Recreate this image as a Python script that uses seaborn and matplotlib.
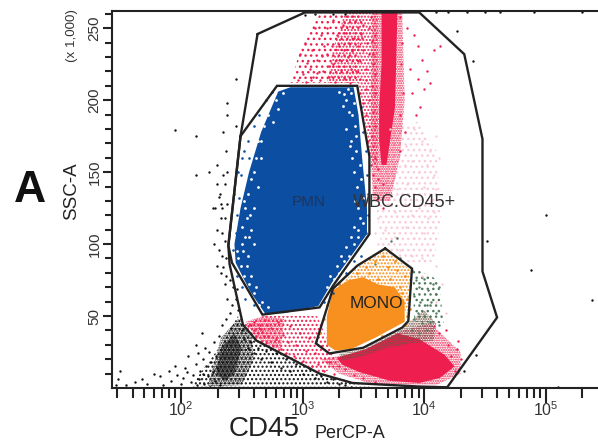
import numpy as np, pandas as pd, matplotlib
matplotlib.use("Agg")
import matplotlib.pyplot as plt
import seaborn as sns

sns.set_style("ticks")
plt.rcParams['font.family'] = ['Liberation Sans', 'DejaVu Sans']

# Gates: (log10 CD45 PerCP-A, SSC-A in thousands)
gate_wbc = [(2.63,246),(3.02,261),(3.96,261),(4.33,232),(4.48,173),(4.48,81),(4.60,49),(4.19,0.5),(3.96,1),(3.41,3.5),(3.14,10),(2.62,33),(2.51,44),(2.40,86),(2.39,99),(2.49,175)]
gate_pmn = [(2.49,175),(2.79,210),(3.45,210),(3.55,161),(3.55,107),(3.25,71),(3.14,56),(2.67,51),(2.42,87),(2.39,99)]
gate_mono = [(3.68,97),(3.90,83),(3.87,46.5),(3.82,42),(3.50,28),(3.22,24),(3.11,31),(3.25,69),(3.45,85)]

# Dense populations, where single events merge into one area
dense_blue = [(2.56,150),(2.66,178),(2.80,206),(2.90,209),(3.42,209),(3.46,190),(3.49,160),(3.53,125),(3.53,107),(3.24,73),(3.13,57),(2.85,52),(2.69,52),(2.57,67),(2.45,87),(2.44,100),(2.49,125)]
dense_orange = [(3.25,68),(3.38,75),(3.5,77),(3.62,72),(3.76,70),(3.84,60),(3.84,46),(3.6,35),(3.4,27),(3.27,26),(3.2,30),(3.2,50)]
dense_red = [(3.28,21),(3.52,27),(3.78,38),(3.96,34),(4.17,23),(4.25,15),(4.13,7),(3.96,3.5),(3.72,5),(3.47,11),(3.33,16)]
dense_column = [(3.65,261),(3.78,261),(3.77,225),(3.76,195),(3.72,172),(3.69,155),(3.65,155),(3.63,172),(3.63,195),(3.65,225)]

# Stippled regions, where events are close but still separate: (polygon, colour, hatch)
stipple_red_sparse = [(2.9,212),(3.46,212),(3.5,261),(3.15,261),(3.0,240)]
stipple_red_top = [(3.2,212),(3.46,212),(3.56,160),(3.62,150),(3.62,261),(3.35,261),(3.25,235)]
stipple_column = [(3.57,261),(3.82,261),(3.84,200),(3.8,160),(3.72,130),(3.58,130),(3.56,165)]
stipple_pink = [(3.7,180),(3.95,185),(4.1,165),(4.14,120),(4.08,88),(3.9,85),(3.65,98),(3.6,130)]
stipple_red_low = [(2.52,44),(2.62,33),(3.14,10),(3.3,15),(3.12,50),(2.68,50)]
stipple_red_core = [(2.53,46),(2.62,35),(2.82,26),(2.85,48),(2.68,50)]
stipple_red_halo = [(3.15,20),(3.5,25),(3.82,40),(4.05,45),(4.3,25),(4.3,10),(4.1,2),(3.6,2),(3.3,10)]
stipple_brown = [(3.5,27),(3.82,41),(3.88,46),(4.0,54),(4.1,45),(4.08,33),(3.9,31),(3.7,28),(3.5,22),(3.32,19),(3.3,24)]
stipple_green = [(3.9,84),(4.12,75),(4.16,45),(3.92,46)]
stipple_mono = [(3.3,70),(3.45,84),(3.68,96),(3.89,82),(3.87,50),(3.75,70)]
stipple_black = [(2.08,1),(2.33,30),(2.47,50),(2.55,37),(2.62,33),(3.14,10),(3.55,1.5),(3.55,1)]
stipple_black_core = [(2.22,1),(2.33,35),(2.47,48),(2.58,35),(2.6,20),(2.5,2)]
stipple_black_dense = [(2.29,10),(2.33,28),(2.44,38),(2.5,28),(2.44,10),(2.36,5)]

red_events = [(2.96,214),(3.0,218),(3.03,213),(3.06,222),(3.09,216),(3.12,228),(3.14,214),(3.17,220),(3.2,232),(3.22,216),(3.25,225),(3.27,213),(3.3,238),(3.32,221),(3.35,215),(3.37,230),(3.4,222),(3.42,243),(3.45,228),(3.47,215),(3.5,235),(3.52,222),(3.55,250),(3.57,210),(3.58,232),(3.6,218),(3.02,240),(3.08,235),(3.15,245),(3.2,250),(3.28,245),(3.33,252),(3.38,240),(3.43,255),(3.48,246),(3.53,240),(3.56,258),(3.6,245),(3.25,256),(3.1,250),(3.18,238),(3.3,228),(3.36,247),(3.41,234),(3.46,238),(3.5,252),(3.58,225),(3.44,220),(3.39,212),(3.24,238),(3.12,219),(3.04,226),(2.98,232),(3.07,214),(3.16,231),(3.22,224),(3.34,235),(3.47,227),(3.52,214),(3.55,232),(3.57,241),(3.49,243),
 (3.47,205),(3.5,198),(3.52,190),(3.55,182),(3.57,175),(3.58,168),(3.6,160),(3.62,152),(3.58,148),(3.6,140),(3.56,155),(3.54,172),(3.58,192),(3.6,205),(3.55,200),(3.52,208),(3.6,182),(3.62,145),(3.66,142),(3.62,132),(3.66,125),
 (3.8,258),(3.82,240),(3.81,225),(3.83,205),(3.8,190),(3.84,178),(3.8,165),(3.86,250),(3.92,245),(3.95,238),(3.98,228),(3.88,222),(3.95,215),(3.9,205),(3.97,195),(4.02,220),(4.08,235),(4.13,238),(4.0,208),(3.93,190),(4.05,212),
 (2.55,43),(2.58,38),(2.6,46),(2.62,36),(2.64,42),(2.66,33),(2.67,39),(2.69,47),(2.7,31),(2.72,36),(2.74,42),(2.76,29),(2.78,34),(2.8,46),(2.82,27),(2.84,37),(2.86,24),(2.88,32),(2.9,43),(2.93,22),(2.95,30),(2.98,38),(3.0,19),(3.03,26),(3.05,35),(3.08,15),(3.1,24),(3.13,17),(3.15,29),(3.18,12),(3.22,18),(3.26,10),(3.3,15),(2.58,44),(2.6,40),(2.63,38),(2.65,44),(2.68,36),(2.61,34),(2.66,41),(2.71,44),
 (4.2,30),(4.22,22),(4.27,27),(4.3,20),(4.12,38),(4.18,40),(4.25,12),(4.28,33),(4.08,43),(3.35,13),(3.42,9),(3.5,7),(3.6,4)]

pink_events = [(3.72,180),(3.8,175),(3.85,168),(3.92,180),(3.98,172),(4.05,165),(4.1,175),(3.76,160),(3.84,155),(3.9,158),(3.96,150),(4.02,155),(4.08,148),(4.12,160),(3.72,145),(3.78,138),(3.86,142),(3.92,135),(4.0,140),(4.06,130),(4.1,138),(3.7,128),(3.76,122),(3.84,128),(3.9,120),(3.96,125),(4.03,118),(4.08,122),(3.62,118),(3.68,110),(3.76,105),(3.85,112),(3.92,104),(4.0,108),(4.05,96),(3.62,100),(3.7,96),(3.8,96),(3.9,92),(3.98,90),(4.1,85),(4.15,72),(4.1,60),(4.18,52),(3.6,108),(3.58,92),(3.56,84),(3.98,78),(4.03,68)]

green_events = [(3.9,82),(3.93,75),(3.96,70),(4.0,76),(4.03,68),(4.07,72),(4.1,65),(4.12,70),(3.92,64),(3.97,60),(4.02,58),(4.06,60),(4.1,52),(4.0,50),(3.95,52),(3.92,48),(3.98,45),(4.05,46),(4.12,44),(3.9,40),(3.96,38),(4.02,40),(3.8,90),(3.73,102),(3.78,104),(3.55,90),(3.6,86)]

white_events = [(2.52,130),(2.54,118),(2.53,105),(2.51,95),(2.49,85),(2.52,78),(2.56,72),(2.6,66),(2.64,58),(2.55,92),(2.58,110),(2.6,125),(2.58,145),(2.62,160),(2.66,172),(2.72,190),(2.78,200),(2.84,205),(3.4,205),(3.42,198),(3.38,192),(3.43,182),(3.4,172),(3.44,165),(3.47,155),(3.48,145),(3.5,132),(3.46,125),(3.5,115),(3.46,105),(3.42,100),(3.38,92),(3.34,88),(3.3,80),(3.26,76),(3.2,70),(3.3,206),(3.36,200),(2.46,95),(2.56,60),
 (2.5,100),(2.47,90),(2.5,112),(2.53,125),(2.55,135),(2.57,120),(2.56,105),(2.54,85),(2.58,78),(2.62,70),(2.67,60),(2.72,56),(2.6,150),(2.63,172),(2.68,182),(2.73,198),(2.8,194),(2.76,185),(2.66,160),(2.63,140),(2.6,100),
 (3.37,208),(3.41,190),(3.36,180),(3.44,175),(3.41,160),(3.45,140),(3.43,130),(3.47,118),(3.42,112),(3.4,105),(3.36,98),(3.32,92),(3.28,85),(3.34,204),(3.33,196),(3.39,168),(3.42,150),(3.46,110),(3.23,78)]

blue_events = [(2.5,160),(2.52,165),(2.55,172),(2.6,182),(2.64,190),(2.7,200),(2.75,206),(2.47,150),(2.48,132),(2.46,120),(2.45,108),(2.43,96),(2.46,78),(2.5,70),(2.53,62),(2.6,58),(3.48,195),(3.5,178),(3.52,165),(3.53,148),(3.54,135),(3.54,120),(3.52,108),(3.48,92),(3.42,88),(3.36,80),(3.3,72),(3.25,66),(3.18,60),(2.44,135),(2.49,148),(2.56,160)]

orange_events = [(3.2,58),(3.18,48),(3.14,38),(3.3,72),(3.45,80),(3.55,80),(3.62,76),(3.72,76),(3.8,70),(3.86,62),(3.88,55),(3.86,50),(3.84,78),(3.78,82),(3.7,84),(3.6,88),(3.52,84),(3.66,92),(3.76,88),(3.82,66),(3.84,44),(3.75,44),(3.65,36)]

black_events = [(1.62,4),(1.68,6),(1.72,3),(1.78,10),(1.83,8),(1.85,2),(1.9,12),(1.92,5),(1.95,15),(1.97,9),(2.0,3),(2.02,7),(2.03,14),(2.05,11),(2.08,4),(2.1,9),(2.12,17),(2.13,2),(2.15,6),(2.16,12),(2.18,20),(2.19,3),(2.21,15),(2.22,8),(2.23,25),(2.24,1),(2.25,18),(2.26,11),(2.27,32),(2.28,5),(2.29,22),(2.3,14),(2.31,36),(2.32,2),(2.2,28),(2.18,10),(2.06,22),(2.12,30),(2.17,38),(2.14,24),(1.5,12),(1.48,6),(1.47,2),(1.55,2),
 (2.34,44),(2.37,48),(2.4,52),(2.42,58),(2.45,62),(2.41,42),(2.47,54),(2.49,48),(2.38,62),(2.36,72),(2.33,80),(2.3,85),(2.37,78),(2.43,70),(2.34,92),(2.3,110),(2.33,118),(2.36,102),(2.28,125),(2.38,128),(2.32,135),(2.36,142),(2.3,155),(2.26,125),(2.34,108),(2.27,100),(2.31,96),(2.37,90),(2.35,84),(2.4,75),
 (2.46,69),(2.35,148),(2.38,150),(2.37,165),(2.35,178),(2.38,190),(2.3,142),(2.12,148),(2.23,150),(1.95,179),(2.12,175),(2.33,128),(2.31,133),(2.36,118),(2.34,125),(2.45,182),(2.38,198),(2.45,215),
 (2.5,40),(2.52,34),(2.55,28),(2.58,32),(2.6,24),(2.63,28),(2.66,20),(2.7,26),(2.74,18),(2.78,24),(2.82,14),(2.86,20),(2.9,12),(2.95,17),(3.0,10),(3.05,14),(3.1,7),(3.15,8),(3.2,4),(3.25,6),(3.3,3),(3.35,2),(3.4,1),
 (4.27,248),(4.40,227),(5.0,120),(4.52,102),(4.88,82),(5.38,61),(5.10,1),(4.43,23),(4.33,12),(3.0,261),(3.1,260),(3.25,260),(3.35,260),(3.02,259),(4.1,261),(4.2,261),(4.35,261),(4.5,261),(4.62,261),(4.9,261),(5.3,261)]

x_major = [100, 1000, 10000, 100000]
x_major_labels = ['2', '3', '4', '5']
y_major = [50, 100, 150, 200, 250]

COL = dict(blue='#0b4ea2', orange='#f7901e', red='#ee1f4f', pink='#f8ccd8', green='#4f7a5c', brown='#6e5040', black='#111111')

fig = plt.figure(figsize=(5.98, 4.43), dpi=100)
ax = fig.add_axes([112/598, 1-388/443, (598-112)/598, (388-11)/443])

def frame(pts):
    a = np.array(pts, float)
    return pd.DataFrame({'x': 10**a[:, 0], 'y': a[:, 1]})

def dots(pts, color, s=2.6, z=2):
    sns.scatterplot(data=frame(pts), x='x', y='y', color=color, s=s, linewidth=0, ax=ax, zorder=z, legend=False)

def area(pts, color, z=1.5):
    d = frame(pts)
    ax.fill(d['x'], d['y'], color=color, lw=0, zorder=z)

def stipple(pts, color, hatch, z=1.2):
    d = frame(pts)
    ax.fill(d['x'], d['y'], facecolor='none', edgecolor=color, hatch=hatch, lw=0, zorder=z)

def gate(pts):
    d = frame(pts + pts[:1])
    ax.plot(d['x'], d['y'], color='#222222', lw=1.7, zorder=6, solid_joinstyle='miter')

stipple(stipple_pink, COL['pink'], '...')
stipple(stipple_red_sparse, COL['red'], '...')
stipple(stipple_red_top, COL['red'], '.....')
stipple(stipple_column, COL['red'], '.......')
stipple(stipple_red_low, COL['red'], '....')
stipple(stipple_red_core, COL['red'], '.......')
stipple(stipple_red_halo, COL['red'], '.......')
stipple(stipple_green, COL['green'], '...')
stipple(stipple_black, COL['black'], '....')
stipple(stipple_black_core, COL['black'], '.......')
stipple(stipple_black_dense, COL['black'], '..........')
stipple(stipple_mono, COL['orange'], '.....', 2.5)
area(dense_column, COL['red'])
area(dense_red, COL['red'])
stipple(stipple_brown, COL['brown'], '.......', 1.8)
area(dense_blue, COL['blue'], 3)
area(dense_orange, COL['orange'], 3)
dots(pink_events, COL['pink'], 3)
dots(red_events, COL['red'], 3)
dots(green_events, COL['green'], 3)
dots(black_events, COL['black'], 3)
dots(blue_events, COL['blue'], 3.5, 4)
dots(white_events, 'white', 4, 4)
dots(orange_events, COL['orange'], 4, 4)
for g in (gate_wbc, gate_pmn, gate_mono):
    gate(g)

ax.set_xscale('log')
ax.set_xlim(10**1.433, 10**5.43)
ax.set_ylim(0, 262)
ax.set_xlabel(''); ax.set_ylabel('')
ax.set_yticks(y_major)
ax.set_yticks(range(10, 261, 10), minor=True)
ax.set_yticklabels([str(v) for v in y_major], rotation=90, va='center', fontsize=11, color='#333333')
ax.set_xticks(x_major)
ax.set_xticklabels([f'$\\mathregular{{10^{e}}}$' for e in x_major_labels], fontsize=11.5, color='#333333')
ax.xaxis.set_minor_locator(matplotlib.ticker.LogLocator(base=10, subs=range(2, 10), numticks=12))
ax.xaxis.set_minor_formatter(matplotlib.ticker.NullFormatter())
ax.tick_params(axis='y', which='major', length=6.5, width=1.5, color='#222222', pad=1)
ax.tick_params(axis='y', which='minor', length=5, width=1.5, color='#222222')
ax.tick_params(axis='x', which='major', length=11, width=1.5, color='#222222', pad=-2)
ax.tick_params(axis='x', which='minor', length=7, width=1.5, color='#222222')
for s in ('left', 'bottom', 'top'):
    ax.spines[s].set_linewidth(1.5); ax.spines[s].set_color('#222222')
ax.spines['right'].set_visible(False)

ax.text(10**3.05, 129, 'PMN', fontsize=11, color='#1c3560', ha='center', va='center', zorder=7)
ax.text(10**3.84, 129, 'WBC.CD45+', fontsize=13, color='#333333', ha='center', va='center', zorder=7)
ax.text(10**3.61, 59, 'MONO', fontsize=12.4, color='#222222', ha='center', va='center', zorder=7)

def ftext(px, py, s, **kw):
    fig.text(px/598, 1-py/443, s, **kw)

ftext(30, 191, 'A', fontsize=32, fontweight='bold', color='#111111', ha='center', va='center')
ftext(72, 191, 'SSC-A', fontsize=13.5, rotation=90, color='#222222', ha='center', va='center')
ftext(72, 36, '(x 1,000)', fontsize=9.6, rotation=90, color='#333333', ha='center', va='center')
ftext(264, 429, 'CD45', fontsize=20, color='#222222', ha='center', va='center')
ftext(350, 433, 'PerCP-A', fontsize=13, color='#222222', ha='center', va='center')

fig.savefig('out.png', dpi=100, facecolor='white')
